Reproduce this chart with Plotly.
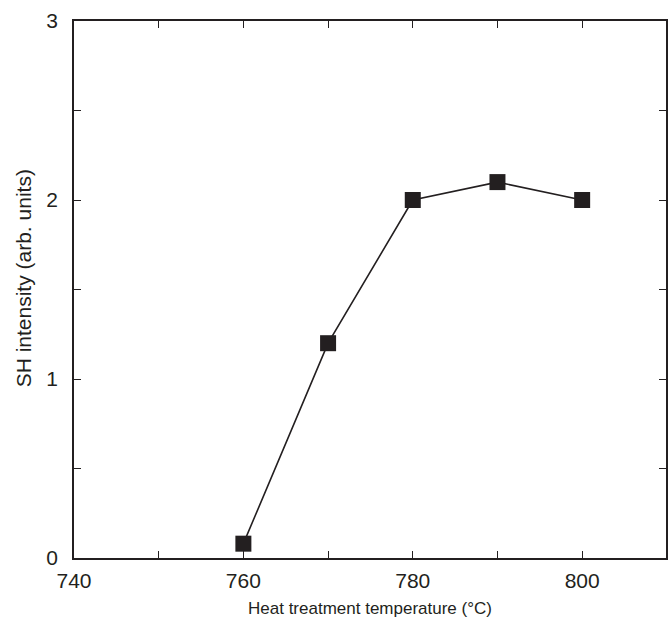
import plotly.graph_objects as go

temperature = [760, 770, 780, 790, 800]
sh_intensity = [0.08, 1.2, 2.0, 2.1, 2.0]

x_tickvals = [740, 760, 780, 800]
y_tickvals = [0, 1, 2, 3]

ink = "#231f20"
tick_font = dict(family="Arial, Liberation Sans, sans-serif", size=21, color=ink)
xtitle_font = dict(family="Arial, Liberation Sans, sans-serif", size=17, color=ink)
ytitle_font = dict(family="Arial, Liberation Sans, sans-serif", size=21, color=ink)

fig = go.Figure(go.Scatter(
    x=temperature, y=sh_intensity, mode="lines+markers",
    line=dict(color=ink, width=1.6),
    marker=dict(symbol="square", size=16, color=ink),
    cliponaxis=False,
))

axis_common = dict(
    showline=True, linecolor=ink, linewidth=1.5, mirror="allticks",
    ticks="inside", ticklen=7, tickwidth=1.3, tickcolor=ink,
    showgrid=False, zeroline=False, tickfont=tick_font,
)

fig.update_xaxes(
    range=[740, 809.9], tickvals=x_tickvals,
    minor=dict(dtick=10, tick0=740, ticks="inside", ticklen=7, tickwidth=1.3, tickcolor=ink),
    ticklabelstandoff=3,
    **axis_common,
)
fig.update_yaxes(
    range=[0, 3], tickvals=y_tickvals,
    minor=dict(dtick=0.5, tick0=0, ticks="inside", ticklen=7, tickwidth=1.3, tickcolor=ink),
    ticklabelstandoff=10,
    **axis_common,
)

fig.add_annotation(
    text="Heat treatment temperature (°C)", font=xtitle_font,
    xref="paper", yref="paper", x=0.5, y=(558 - 608) / 537,
    xanchor="center", yanchor="middle", showarrow=False,
)
fig.add_annotation(
    text="SH intensity (arb. units)", textangle=-90, font=ytitle_font,
    xref="paper", yref="paper", x=-0.0859, y=0.521,
    xanchor="center", yanchor="middle", showarrow=False,
)

fig.update_layout(
    width=668, height=620,
    margin=dict(l=74, r=0, t=21, b=62),
    paper_bgcolor="white", plot_bgcolor="white",
    showlegend=False,
)

fig.write_html("out.html")
